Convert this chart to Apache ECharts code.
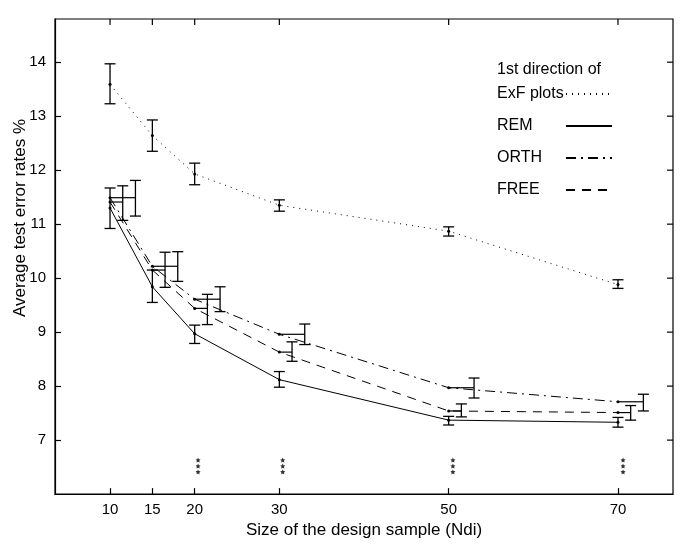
<!DOCTYPE html>
<html>
<head>
<meta charset="utf-8">
<title>Average test error rates</title>
<script src="https://cdn.jsdelivr.net/npm/echarts@6/dist/echarts.min.js"></script>
<style>
  html, body { margin: 0; padding: 0; background: #fff; }
  #chart { width: 687px; height: 544px; }
</style>
</head>
<body>
<div id="chart"></div>
<script>
// size of the design sample (Ndi)
const sizes = [10, 15, 20, 30, 50, 70];
const xTicks = [10, 15, 20, 30, 50, 70];
const yTicks = [7, 8, 9, 10, 11, 12, 13, 14];
const xMin = 3.5, xMax = 76.5, yMin = 6, yMax = 14.8;

// average test error rates % with error bar ends
const exfMean = [13.59, 12.64, 11.93, 11.35, 10.87, 9.88];
const exfLow  = [13.23, 12.35, 11.73, 11.24, 10.78, 9.81];
const exfHigh = [13.97, 12.93, 12.13, 11.45, 10.95, 9.97];

const remMean = [11.30, 9.84, 8.97, 8.12, 7.37, 7.33];
const remLow  = [10.92, 9.55, 8.79, 7.98, 7.28, 7.24];
const remHigh = [11.67, 10.15, 9.13, 8.27, 7.44, 7.42];

const orthMean = [11.49, 10.22, 9.61, 8.96, 7.97, 7.71];
const orthLow  = [11.15, 9.94, 9.38, 8.77, 7.78, 7.54];
const orthHigh = [11.81, 10.49, 9.84, 9.15, 8.15, 7.85];

const freeMean = [11.41, 10.15, 9.44, 8.63, 7.54, 7.51];
const freeLow  = [11.07, 9.83, 9.14, 8.46, 7.43, 7.37];
const freeHigh = [11.71, 10.48, 9.70, 8.82, 7.67, 7.64];

// significance marks (***)
const starX = [20.4, 30.4, 50.5, 70.6];
const starY = [6.63, 6.52, 6.41];

const font = '"Liberation Sans", Arial, sans-serif';
const chart = echarts.init(document.getElementById('chart'));

function lineSeries(name, mean, type) {
  return {
    name: name,
    type: 'line',
    data: sizes.map((x, i) => [x, mean[i]]),
    symbol: 'circle',
    symbolSize: 3,
    itemStyle: { color: '#000' },
    lineStyle: { color: '#000', width: 1, type: type },
    z: 3
  };
}

// error bar drawn at x + shift, joined to the point by a short horizontal line
function errorSeries(name, mean, low, high, shift) {
  return {
    name: name,
    type: 'custom',
    data: sizes.map((x, i) => [x, mean[i], low[i], high[i], shift]),
    encode: { x: 0, y: 1 },
    renderItem: function (params, api) {
      const x = api.value(0);
      const off = api.value(4);
      const p0 = api.coord([x, api.value(1)]);
      const pc = api.coord([x + off, api.value(1)]);
      const top = api.coord([x + off, api.value(3)]);
      const bot = api.coord([x + off, api.value(2)]);
      const w = 5.5;
      const st = { stroke: '#000', lineWidth: 1.3 };
      const children = [
        { type: 'line', shape: { x1: top[0], y1: top[1], x2: bot[0], y2: bot[1] }, style: st },
        { type: 'line', shape: { x1: top[0] - w, y1: top[1], x2: top[0] + w, y2: top[1] }, style: st },
        { type: 'line', shape: { x1: bot[0] - w, y1: bot[1], x2: bot[0] + w, y2: bot[1] }, style: st }
      ];
      if (off) {
        children.push({ type: 'line', shape: { x1: p0[0], y1: p0[1], x2: pc[0], y2: pc[1] }, style: { stroke: '#000', lineWidth: 1.2 } });
      }
      return { type: 'group', children: children };
    },
    z: 4
  };
}

// inward ticks on the top and right frame edges, mirroring the axes
function mirrorTicks(data, dx, dy) {
  return {
    type: 'custom',
    silent: true,
    clip: false,
    data: data,
    encode: { x: 0, y: 1 },
    renderItem: function (params, api) {
      const p = api.coord([api.value(0), api.value(1)]);
      return {
        type: 'line',
        shape: { x1: p[0], y1: p[1], x2: p[0] + dx, y2: p[1] + dy },
        style: { stroke: '#000', lineWidth: 1.2 }
      };
    }
  };
}

const starData = [];
starX.forEach(x => starY.forEach(y => starData.push([x, y])));

const tickStyle = { show: true, inside: true, length: 6, lineStyle: { color: '#000', width: 1.2 } };

const option = {
  animation: false,
  backgroundColor: '#fff',
  textStyle: { fontFamily: font, color: '#000' },
  grid: { left: 55, right: 14, top: 19, bottom: 43, show: true, borderColor: '#000', borderWidth: 1.2 },
  xAxis: {
    type: 'value', min: xMin, max: xMax,
    name: 'Size of the design sample (Ndi)',
    nameLocation: 'middle', nameGap: 24,
    nameTextStyle: { fontSize: 17, color: '#000', fontFamily: font },
    axisLine: { lineStyle: { color: '#000', width: 1.2 } },
    axisTick: Object.assign({ customValues: xTicks }, tickStyle),
    axisLabel: { customValues: xTicks, fontSize: 15, color: '#000', fontFamily: font, margin: 8 },
    splitLine: { show: false }
  },
  yAxis: {
    type: 'value', min: yMin, max: yMax,
    axisLine: { show: true, lineStyle: { color: '#000', width: 1.2 } },
    axisTick: Object.assign({ customValues: yTicks }, tickStyle),
    axisLabel: { customValues: yTicks, fontSize: 15, color: '#000', fontFamily: font, margin: 9 },
    splitLine: { show: false }
  },
  legend: {
    orient: 'vertical',
    left: 492, top: 81,
    align: 'right',
    itemWidth: 46, itemHeight: 12, itemGap: 16,
    selectedMode: false,
    itemStyle: { opacity: 0 },
    formatter: name => '{t|' + name + '}',
    textStyle: {
      fontFamily: font, fontSize: 16, color: '#000',
      rich: { t: { width: 64, align: 'left', fontFamily: font, fontSize: 16, color: '#000' } }
    },
    data: ['ExF plots', 'REM', 'ORTH', 'FREE']
  },
  graphic: [
    { type: 'text', left: 497, top: 62, style: { text: '1st direction of', font: '16px ' + font, fill: '#000' } },
    {
      type: 'text', x: 20, y: 218, rotation: Math.PI / 2,
      style: { text: 'Average test error rates %', font: '17px ' + font, fill: '#000', align: 'center', verticalAlign: 'middle' }
    }
  ],
  series: [
    lineSeries('ExF plots', exfMean, [1, 5]),
    lineSeries('REM', remMean, 'solid'),
    lineSeries('ORTH', orthMean, [10, 5, 2, 5]),
    lineSeries('FREE', freeMean, [9, 7]),
    errorSeries('ExF err', exfMean, exfLow, exfHigh, 0),
    errorSeries('REM err', remMean, remLow, remHigh, 0),
    errorSeries('ORTH err', orthMean, orthLow, orthHigh, 3),
    errorSeries('FREE err', freeMean, freeLow, freeHigh, 1.5),
    mirrorTicks(xTicks.map(v => [v, yMax]), 0, 6),
    mirrorTicks(yTicks.map(v => [xMax, v]), -6, 0),
    {
      name: 'stars',
      type: 'scatter',
      data: starData,
      symbol: 'path://M0,-10L2.9,-4L9.5,-3.1L4.7,1.5L5.9,8.1L0,5L-5.9,8.1L-4.7,1.5L-9.5,-3.1L-2.9,-4Z',
      symbolSize: 5,
      itemStyle: { color: '#000' }
    }
  ]
};

chart.setOption(option);
</script>
</body>
</html>
